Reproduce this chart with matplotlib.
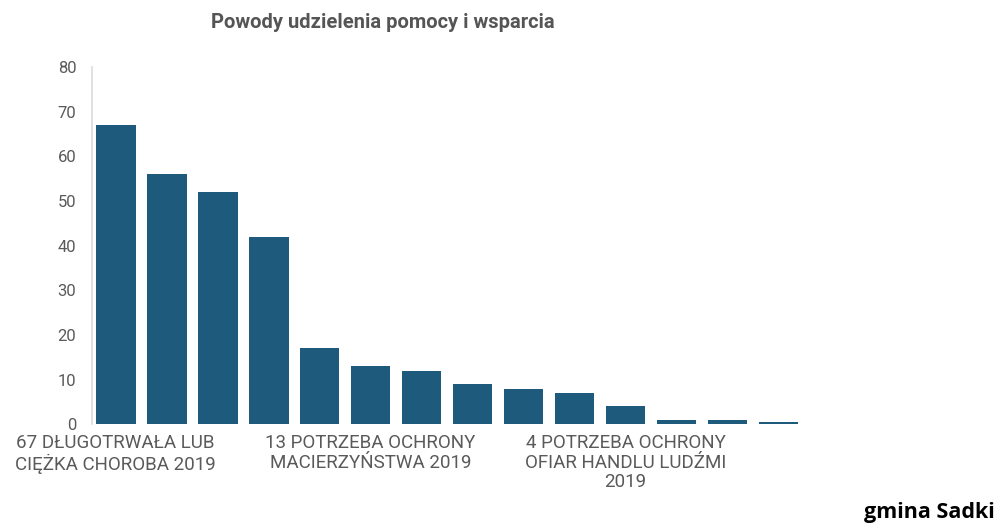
import matplotlib
matplotlib.use('Agg')
import matplotlib.pyplot as plt

# values
values = [67, 56, 52, 42, 17, 13, 12, 9, 8, 7, 4, 1, 1, 0.5]
labels = ['67 DŁUGOTRWAŁA LUB\nCIĘŻKA CHOROBA 2019', '', '', '', '',
          '13 POTRZEBA OCHRONY\nMACIERZYŃSTWA 2019', '', '', '', '',
          '4 POTRZEBA OCHRONY\nOFIAR HANDLU LUDŹMI\n2019', '', '', '']
y_ticks = [0, 10, 20, 30, 40, 50, 60, 70, 80]
title = 'Powody udzielenia pomocy i wsparcia'
footer = 'gmina Sadki'

bar_color = '#1d5a7b'
text_gray = '#5a5a5a'

plt.rcParams['font.family'] = ['Roboto', 'DejaVu Sans']

fig = plt.figure(figsize=(10.08, 5.25), dpi=100)
ax = fig.add_axes([0.091, 0.192, 0.704, 0.68])

xs = list(range(len(values)))
ax.bar(xs, values, width=0.78, color=bar_color, zorder=2)

ax.set_xlim(-0.47, 13.45)
ax.set_ylim(0, 80)
ax.set_yticks(y_ticks)
ax.set_yticklabels([str(v) for v in y_ticks], color=text_gray, fontsize=12)
ax.set_xticks(xs)
ax.set_xticklabels(labels, color=text_gray, fontsize=13.5, linespacing=1.12)
ax.tick_params(axis='both', length=0)
ax.tick_params(axis='y', pad=11)
ax.tick_params(axis='x', pad=7)

for side in ['top', 'right', 'bottom']:
    ax.spines[side].set_visible(False)
ax.spines['left'].set_color('#dcdcdc')
ax.spines['left'].set_linewidth(1.2)

fig.text(0.380, 0.957, title, ha='center', va='center', fontsize=14.5,
         fontweight='bold', color='#555555')
fig.text(0.922, 0.024, footer, ha='center', va='center', fontsize=15.5,
         fontweight='bold', color='black', family=['Open Sans', 'DejaVu Sans'])

fig.savefig('out.png', dpi=100)
